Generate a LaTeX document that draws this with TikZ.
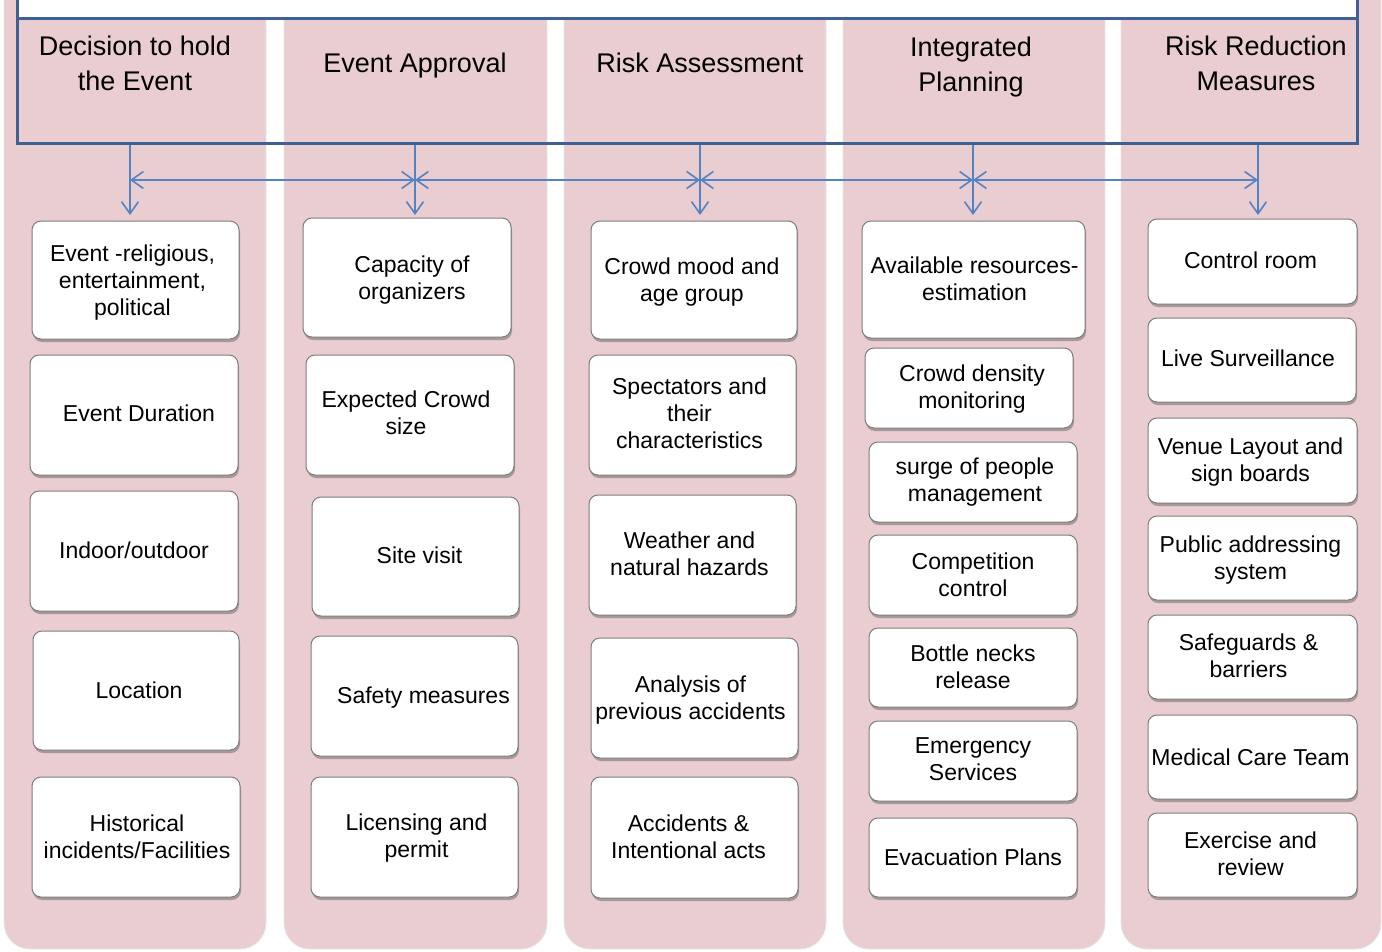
\documentclass[tikz,border=0pt]{standalone}
\usepackage{fontspec}
\setmainfont{Liberation Sans}
\usetikzlibrary{arrows.meta,shadows}
\definecolor{pinkbg}{RGB}{234,205,208}
\definecolor{frameblue}{RGB}{62,96,146}
\definecolor{arrowblue}{RGB}{84,131,196}
\definecolor{boxline}{RGB}{125,125,125}
\tikzset{
  panel/.style={fill=pinkbg, draw=black!10, line width=0.8pt, rounded corners=26pt},
  headframe/.style={draw=frameblue, line width=3pt, inner sep=0pt},
  headtxt/.style={font=\fontsize{27}{34.5}\selectfont, align=center, text=black},
  itembox/.style={draw=boxline, line width=1pt, fill=white, rounded corners=9pt, inner sep=0pt,
    drop shadow={shadow xshift=1pt, shadow yshift=-3pt, fill=black!60, opacity=0.5}},
  itemtxt/.style={font=\fontsize{23}{27}\selectfont, align=center, inner sep=0pt, text=black},
  link/.style={draw=arrowblue, line width=1.6pt},
  >={Straight Barb[length=12pt,width=17pt]}
}
% #1 name, #2 left, #3 top, #4 right, #5 bottom, #6 text dx, #7 text dy (down), #8 text
\newcommand\itm[8]{%
  \node[itembox, minimum width={(#4)-(#2)}, minimum height={(#5)-(#3)},
        label={[itemtxt, xshift=#6pt, yshift=-#7pt]center:{#8}}]
        (#1) at ({((#2)+(#4))/2},{((#3)+(#5))/2}) {};}
\begin{document}
\begin{tikzpicture}[x=1pt,y=-1pt]
\useasboundingbox (0,0) rectangle (1382,951);
% column panels
\draw[panel] (4,-40) -- (4,949) -- (266,949) -- (266,-40) -- cycle;
\draw[panel] (284,-40) -- (284,949) -- (547,949) -- (547,-40) -- cycle;
\draw[panel] (564,-40) -- (564,949) -- (826,949) -- (826,-40) -- cycle;
\draw[panel] (843,-40) -- (843,949) -- (1105,949) -- (1105,-40) -- cycle;
\draw[panel] (1121,-40) -- (1121,949) -- (1381,949) -- (1381,-40) -- cycle;
% top white box and header frame
\draw[fill=white, draw=frameblue, line width=3pt] (17,-20) rectangle (1357,18);
\node[headframe, minimum width=1340pt, minimum height=125pt] (frame) at (687,80.5) {};
\node[headtxt] (h1) at (135,63.5) {Decision to hold\\the Event};
\node[headtxt] (h2) at (415,66) {Event Approval};
\node[headtxt] (h3) at (700,63) {Risk Assessment};
\node[headtxt] (h4) at (971,67) {Integrated\\Planning};
\node[headtxt] (h5) at (1256,63.5) {Risk Reduction\\Measures};
% connectors
\coordinate (t1) at (130,215);
\coordinate (t2) at (415,215);
\coordinate (t3) at (700,215);
\coordinate (t4) at (973,215);
\coordinate (t5) at (1258,215);
\coordinate (m1) at (130,180);
\coordinate (m2) at (415,180);
\coordinate (m3) at (700,180);
\coordinate (m4) at (973,180);
\coordinate (m5) at (1258,180);
\foreach \i in {1,...,5} {\draw[link,->] (t\i |- frame.south) -- (t\i);}
\draw[link,<->] (m1) -- (m2);
\draw[link,<->] (m2) -- (m3);
\draw[link,<->] (m3) -- (m4);
\draw[link,<->] (m4) -- (m5);
% column 1
\itm{c1a}{32}{221}{239}{339}{-3}{3}{Event -religious,\\entertainment,\\political}
\itm{c1b}{30}{355}{238}{475}{5}{-2}{Event Duration}
\itm{c1c}{30}{491}{238}{611}{0}{-1}{Indoor/outdoor}
\itm{c1d}{33}{631}{239}{750}{3}{0}{Location}
\itm{c1e}{32}{777}{240}{897}{1}{0}{Historical\\incidents/Facilities}
% column 2
\itm{c2a}{303}{218}{511}{337}{5}{3}{Capacity of\\organizers}
\itm{c2b}{306}{355}{514}{475}{-4}{-2}{Expected Crowd\\size}
\itm{c2c}{312}{497}{519}{616}{4}{-1}{Site visit}
\itm{c2d}{311}{636}{518}{756}{9}{2}{Safety measures}
\itm{c2e}{311}{777}{518}{897}{2}{1}{Licensing and\\permit}
% column 3
\itm{c3a}{591}{221}{797}{339}{-2}{2}{Crowd mood and\\age group}
\itm{c3b}{589}{355}{796}{475}{-3}{-2}{Spectators and\\their\\characteristics}
\itm{c3c}{589}{495}{796}{615}{-3}{-1}{Weather and\\natural hazards}
\itm{c3d}{591}{638}{798}{758}{-4}{2}{Analysis of\\previous accidents}
\itm{c3e}{591}{777}{798}{898}{-6}{-1}{Accidents \&\\Intentional acts}
% column 4
\itm{c4a}{862}{221}{1085}{338}{1}{-1}{Available resources-\\estimation}
\itm{c4b}{865}{348}{1073}{428}{3}{1}{Crowd density\\monitoring}
\itm{c4c}{869}{442}{1077}{522}{2}{0}{surge of people\\management}
\itm{c4d}{869}{535}{1077}{615}{0}{0}{Competition\\control}
\itm{c4e}{869}{628}{1077}{707}{0}{-1}{Bottle necks\\release}
\itm{c4f}{869}{721}{1077}{801}{0}{-2}{Emergency\\Services}
\itm{c4g}{869}{818}{1077}{897}{0}{0}{Evacuation Plans}
% column 5
\itm{c5a}{1148}{219}{1357}{304}{-2}{-1}{Control room}
\itm{c5b}{1148}{318}{1356}{402}{-4}{-2}{Live Surveillance}
\itm{c5c}{1148}{418}{1357}{503}{-2}{2}{Venue Layout and\\sign boards}
\itm{c5d}{1148}{516}{1357}{600}{-2}{2}{Public addressing\\system}
\itm{c5e}{1148}{615}{1357}{699}{-4}{-1}{Safeguards \&\\barriers}
\itm{c5f}{1148}{715}{1357}{799}{-2}{0}{Medical Care Team}
\itm{c5g}{1148}{813}{1357}{897}{-2}{-1}{Exercise and\\review}
\end{tikzpicture}
\end{document}
